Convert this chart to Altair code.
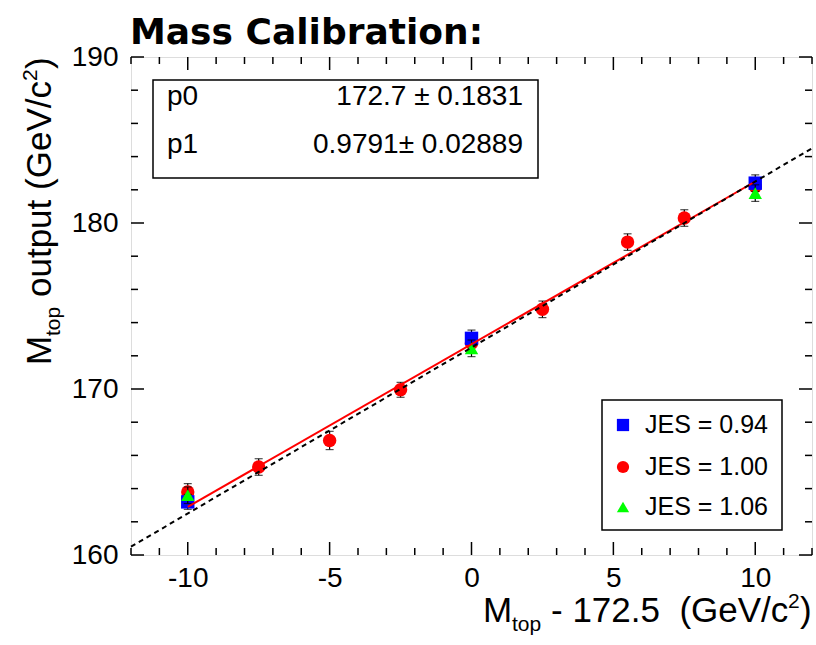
import altair as alt
import pandas as pd

# ---------------- data ----------------
x_094 = [-10, 0, 10]
y_094 = [163.2, 173.05, 182.4]
e_094 = [0.45, 0.5, 0.5]

x_100 = [-10, -7.5, -5, -2.5, 0, 2.5, 5.5, 7.5, 10]
y_100 = [163.8, 165.3, 166.9, 169.95, 172.75, 174.8, 178.85, 180.3, 182.2]
e_100 = [0.5, 0.5, 0.55, 0.45, 0.5, 0.5, 0.5, 0.5, 0.5]

x_106 = [-10, 0, 10]
y_106 = [163.6, 172.45, 181.8]
e_106 = [0.5, 0.5, 0.5]

fit_x = [-10, 10]
fit_y = [162.9, 182.5]
diag_x = [-12, 12]
diag_y = [160.5, 184.5]

x_major = [-10, -5, 0, 5, 10]
x_minor = [-12, -11, -9, -8, -7, -6, -4, -3, -2, -1, 1, 2, 3, 4, 6, 7, 8, 9, 11, 12]
y_major = [160, 170, 180, 190]
y_minor = [162, 164, 166, 168, 172, 174, 176, 178, 182, 184, 186, 188]

stats_names = ["p0", "p1"]
stats_vals = ["172.7 \u00b1 0.1831", "0.9791\u00b1 0.02889"]
legend_labels = ["JES = 0.94", "JES = 1.00", "JES = 1.06"]

# ---------------- layout ----------------
W, H = 681, 498
FONT = "Liberation Sans"

xs = alt.Scale(domain=[-12, 12], nice=False, zero=False)
ys = alt.Scale(domain=[160, 190], nice=False, zero=False)
xaxis = alt.Axis(values=x_major, ticks=False, domain=False, grid=False, title=None,
                 labelFont=FONT, labelFontSize=28, labelColor="black", labelPadding=9,
                 labelExpr="datum.value < 0 ? '-' + abs(datum.value) : '' + datum.value")
yaxis = alt.Axis(values=y_major, ticks=False, domain=False, grid=False, title=None,
                 labelFont=FONT, labelFontSize=28, labelColor="black", labelPadding=13)


def X(f):
    return alt.X(f, type="quantitative", scale=xs, axis=xaxis)


def Y(f):
    return alt.Y(f, type="quantitative", scale=ys, axis=yaxis)


def series(xv, yv, ev):
    return pd.DataFrame({"x": xv, "y": yv, "lo": [a - b for a, b in zip(yv, ev)],
                         "hi": [a + b for a, b in zip(yv, ev)]})


layers = []

specs = [
    (series(x_100, y_100, e_100), "circle", "#ff0000"),
    (series(x_094, y_094, e_094), "square", "#0000ff"),
    (series(x_106, y_106, e_106), "triangle-up", "#00ff00"),
]
for df, shape, col in specs:
    base = alt.Chart(df)
    layers.append(base.mark_rule(color="black", strokeWidth=1.2).encode(
        x=X("x"), y=Y("lo"), y2="hi"))
    layers.append(base.mark_tick(color="black", thickness=1.2, size=8, orient="horizontal").encode(
        x=X("x"), y=Y("hi")))
    layers.append(base.mark_tick(color="black", thickness=1.2, size=8, orient="horizontal").encode(
        x=X("x"), y=Y("lo")))
    layers.append(base.mark_point(shape=shape, filled=True, color=col, opacity=1, size=180).encode(
        x=X("x"), y=Y("y")))

fit_df = pd.DataFrame({"x": fit_x, "y": fit_y})
layers.append(alt.Chart(fit_df).mark_line(color="#ff0000", strokeWidth=2).encode(x=X("x"), y=Y("y")))
diag_df = pd.DataFrame({"x": diag_x, "y": diag_y})
layers.append(alt.Chart(diag_df).mark_line(color="black", strokeWidth=2, strokeDash=[5, 4]).encode(
    x=X("x"), y=Y("y")))

# inward ticks
for vals, ln in [(x_major, 13), (x_minor, 7)]:
    d = pd.DataFrame({"v": vals})
    layers.append(alt.Chart(d).mark_rule(color="black", strokeWidth=1.5).encode(
        x=X("v"), y=alt.value(H), y2=alt.value(H - ln)))
    layers.append(alt.Chart(d).mark_rule(color="black", strokeWidth=1.5).encode(
        x=X("v"), y=alt.value(0), y2=alt.value(ln)))
for vals, ln in [(y_major, 13), (y_minor, 7)]:
    d = pd.DataFrame({"v": vals})
    layers.append(alt.Chart(d).mark_rule(color="black", strokeWidth=1.5).encode(
        y=Y("v"), x=alt.value(0), x2=alt.value(ln)))
    layers.append(alt.Chart(d).mark_rule(color="black", strokeWidth=1.5).encode(
        y=Y("v"), x=alt.value(W), x2=alt.value(W - ln)))

one = pd.DataFrame({"k": [0]})


def txt(s, x, y, size, align="left", angle=0, baseline="alphabetic", font=FONT, weight="normal"):
    return alt.Chart(one).mark_text(text=s, align=align, baseline=baseline, angle=angle,
                                    font=font, fontSize=size, fontWeight=weight,
                                    color="black").encode(x=alt.value(x), y=alt.value(y))


# stats box
layers.append(alt.Chart(one).mark_rect(fill="white", stroke="black", strokeWidth=1.5).encode(
    x=alt.value(22), x2=alt.value(407), y=alt.value(23), y2=alt.value(121)))
layers.append(txt(stats_names[0], 36, 48, 28))
layers.append(txt(stats_vals[0], 392, 48, 28, align="right"))
layers.append(txt(stats_names[1], 36, 96, 28))
layers.append(txt(stats_vals[1], 392, 96, 28, align="right"))

# legend
layers.append(alt.Chart(one).mark_rect(fill="white", stroke="black", strokeWidth=1.5).encode(
    x=alt.value(471), x2=alt.value(651), y=alt.value(343), y2=alt.value(473)))
leg_rows = [368, 410, 450]
leg_shapes = [("square", "#0000ff"), ("circle", "#ff0000"), ("triangle-up", "#00ff00")]
for (shape, col), ry, lab in zip(leg_shapes, leg_rows, legend_labels):
    layers.append(alt.Chart(one).mark_point(shape=shape, filled=True, color=col, opacity=1, size=150).encode(
        x=alt.value(492), y=alt.value(ry)))
    layers.append(txt(lab, 514, ry, 25, baseline="middle"))

# title
layers.append(txt("Mass Calibration:", -1, -13, 36, font="DejaVu Sans", weight="bold"))

# x-axis title
layers.append(txt("M", 352, 565, 35))
layers.append(txt("top", 381, 574, 21))
layers.append(txt("-\u00a0172.5\u00a0\u00a0(GeV/c", 420, 565, 35))
layers.append(txt("2", 657, 551, 21))
layers.append(txt(")", 669, 565, 35))

# y-axis title (rotated)
layers.append(txt("M", -80, 308, 35, angle=270))
layers.append(txt("top", -71, 279, 21, angle=270))
layers.append(txt("output (GeV/c", -80, 240, 35, angle=270))
layers.append(txt("2", -94, 24, 21, angle=270))
layers.append(txt(")", -80, 12, 35, angle=270))

chart = alt.layer(*layers).properties(
    width=W, height=H, autosize="none",
    padding={"left": 131, "top": 57, "right": 4, "bottom": 90},
).configure_view(stroke="black", strokeWidth=2).configure(background="white")

chart.save("out.html", embed_options={"renderer": "svg", "actions": False})
